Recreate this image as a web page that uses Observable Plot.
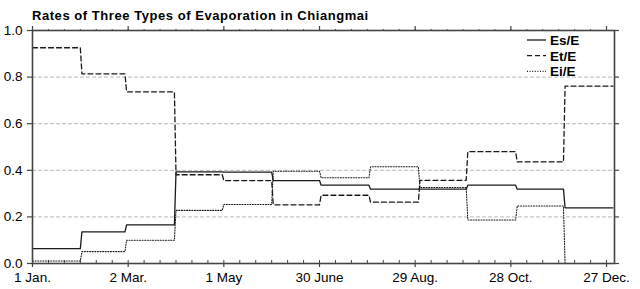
<!DOCTYPE html>
<html><head><meta charset="utf-8">
<script src="https://cdn.jsdelivr.net/npm/d3@7"></script>
<script src="https://cdn.jsdelivr.net/npm/@observablehq/plot@0.6"></script>
<style>
body{margin:0;background:#fff;font-family:"Liberation Sans",Arial,sans-serif;}
#title{font-weight:bold;font-size:13px;letter-spacing:0.55px;line-height:13px;height:13px;padding-top:9px;padding-left:32px;color:#000;white-space:nowrap;}
#chart svg{display:block;}
</style></head><body>
<div id="title">Rates of Three Types of Evaporation in Chiangmai</div>
<div id="chart"></div>
<script>
// Month boundaries, in days after 1 January
const monthStartDays = [0, 31, 59, 90, 120, 151, 181, 212, 243, 273, 304, 334, 365];
// Monthly ratios (Jan..Dec)
const esE = [0.064, 0.136, 0.166, 0.393, 0.392, 0.356, 0.336, 0.319, 0.319, 0.336, 0.319, 0.239];
const etE = [0.926, 0.814, 0.737, 0.381, 0.356, 0.252, 0.293, 0.263, 0.357, 0.480, 0.436, 0.761];
const eiE = [0.011, 0.051, 0.100, 0.228, 0.253, 0.396, 0.368, 0.415, 0.326, 0.187, 0.247, 0.000];
const seriesNames = ["Es/E", "Et/E", "Ei/E"];
const tickDays = [0, 60, 120, 180, 240, 300, 360];
const tickLabels = ["1 Jan.", "2 Mar.", "1 May", "30 June", "29 Aug.", "28 Oct.", "27 Dec."];
const minorDays = d3.range(0, 361, 10);
const yTicks = [0, 0.2, 0.4, 0.6, 0.8, 1.0];

const seriesValues = [esE, etE, eiE];
const dashes = [null, "5,3", "1,1.6"];
const widths = [1.3, 1.3, 1.1];
const lineColor = "#1a1a1a";

const lineData = seriesNames.flatMap((name, s) => seriesValues[s].flatMap((v, m) => [
  {series: name, day: monthStartDays[m], value: v},
  {series: name, day: monthStartDays[m + 1] - 1, value: v}
]));

function legend(index, scales, values, dims) {
  const g = d3.create("svg:g")
    .attr("font-family", "Liberation Sans, Arial, sans-serif")
    .attr("font-size", 13.5).attr("font-weight", "bold").attr("fill", "#000")
    .attr("text-anchor", "start");
  const xr = dims.width - dims.marginRight;
  seriesNames.forEach((name, i) => {
    const y = dims.marginTop + 10 + i * 15.7;
    g.append("line").attr("x1", xr - 87).attr("x2", xr - 68).attr("y1", y).attr("y2", y)
      .attr("stroke", lineColor).attr("stroke-width", widths[i])
      .attr("stroke-dasharray", dashes[i]);
    g.append("text").attr("x", xr - 64).attr("y", y).attr("dy", "0.36em").text(name);
  });
  return g.node();
}

const chart = Plot.plot({
  width: 640,
  height: 267,
  marginTop: 8,
  marginBottom: 26,
  marginLeft: 32,
  marginRight: 26,
  style: {fontFamily: "Liberation Sans, Arial, sans-serif", color: "#000", background: "#fff"},
  x: {domain: [monthStartDays[0], monthStartDays[monthStartDays.length - 1]], label: null},
  y: {domain: [0, 1], label: null},
  marks: [
    Plot.gridY(yTicks.slice(1, -1), {stroke: "#b8b8b8", strokeOpacity: 1, strokeDasharray: "4,2"}),
    Plot.axisY({ticks: yTicks, tickFormat: d3.format(".1f"), tickSize: 5, tickPadding: 5, fontSize: 13.5, stroke: "#444", strokeWidth: 1.2}),
    Plot.axisY({anchor: "right", ticks: yTicks, tickFormat: () => "", tickSize: 4, stroke: "#444", strokeWidth: 1.2}),
    Plot.axisX({ticks: tickDays, tickFormat: d => tickLabels[tickDays.indexOf(d)], tickSize: 4, tickPadding: 5, fontSize: 13.5, stroke: "#444", strokeWidth: 1.2}),
    Plot.axisX({ticks: minorDays, tickFormat: () => "", tickSize: -3, stroke: "#444"}),
    Plot.axisX({anchor: "top", ticks: minorDays, tickFormat: () => "", tickSize: 2, stroke: "#444"}),
    Plot.axisX({anchor: "top", ticks: tickDays, tickFormat: () => "", tickSize: 5, stroke: "#444", strokeWidth: 1.2}),
    Plot.line(lineData.filter(d => d.series === seriesNames[2]), {x: "day", y: "value", stroke: lineColor, strokeWidth: widths[2], strokeDasharray: dashes[2]}),
    Plot.line(lineData.filter(d => d.series === seriesNames[1]), {x: "day", y: "value", stroke: lineColor, strokeWidth: widths[1], strokeDasharray: dashes[1]}),
    Plot.line(lineData.filter(d => d.series === seriesNames[0]), {x: "day", y: "value", stroke: lineColor, strokeWidth: widths[0]}),
    Plot.frame({stroke: "#444", strokeWidth: 1.6}),
    legend
  ]
});
document.getElementById("chart").appendChild(chart);
</script>
</body></html>
